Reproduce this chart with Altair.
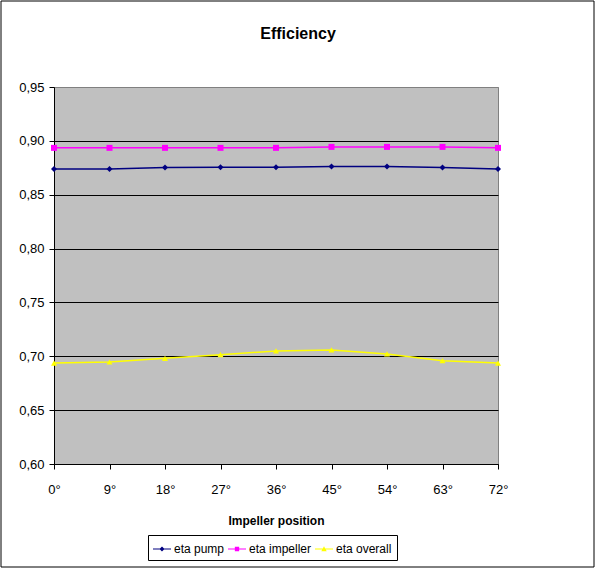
import altair as alt
import pandas as pd

# ---- data ----
positions = [0, 9, 18, 27, 36, 45, 54, 63, 72]
eta_pump = [0.8738, 0.8739, 0.8753, 0.8754, 0.8754, 0.8762, 0.8762, 0.8753, 0.8738]
eta_impeller = [0.8935, 0.8935, 0.8935, 0.8935, 0.8935, 0.8944, 0.8944, 0.8944, 0.8935]
eta_overall = [0.6937, 0.6947, 0.6981, 0.7015, 0.7050, 0.7059, 0.7022, 0.6959, 0.6937]

series_names = ["eta pump", "eta impeller", "eta overall"]
series_colors = ["#000080", "#FF00FF", "#FFFF00"]
marker_shapes = ["diamond", "square", "triangle-up"]
y_ticks = [0.60, 0.65, 0.70, 0.75, 0.80, 0.85, 0.90, 0.95]
x_ticks = positions

FONT = "Liberation Sans"

rows = []
for name, vals in zip(series_names, [eta_pump, eta_impeller, eta_overall]):
    for p, v in zip(positions, vals):
        rows.append({"position": p, "value": v, "series": name})
df = pd.DataFrame(rows)

# legend symbols: a short line with the marker on top
LINE = "M-1,-0.06H1V0.06H-1Z"
legend_paths = [
    LINE + "M0,-0.28L0.28,0L0,0.28L-0.28,0Z",
    LINE + "M-0.24,-0.24H0.24V0.24H-0.24Z",
    LINE + "M0,-0.3L0.3,0.24H-0.3Z",
]

color_scale = alt.Scale(domain=series_names, range=series_colors)

x_enc = alt.X(
    "position:Q",
    scale=alt.Scale(domain=[0, 72], nice=False, zero=False),
    axis=alt.Axis(
        values=x_ticks, grid=False, labelExpr="datum.value + '\u00b0'",
        labelFlush=False, labelOverlap=False, tickSize=5, tickColor="black",
        domainColor="black", labelFont=FONT, labelFontSize=13, labelColor="black",
        labelPadding=14, title="Impeller position", titleFont=FONT,
        titleFontSize=12, titleFontWeight="bold", titleColor="black", titlePadding=19,
    ),
)
y_enc = alt.Y(
    "value:Q",
    scale=alt.Scale(domain=[0.6, 0.95], nice=False, zero=False),
    axis=alt.Axis(
        values=y_ticks, grid=True,
        gridColor=alt.condition("datum.value > 0.94", alt.value("#808080"), alt.value("black")),
        gridWidth=1, labelExpr="replace(format(datum.value, '.2f'), '.', ',')",
        labelFlush=False, labelOverlap=False, tickSize=5, tickColor="black",
        domainColor="black", labelFont=FONT, labelFontSize=13, labelColor="black",
        labelPadding=5, title=None,
    ),
)

base = alt.Chart(df).encode(x=x_enc, y=y_enc)

lines = base.mark_line(strokeWidth=1.5).encode(
    color=alt.Color("series:N", scale=color_scale, legend=None)
)
points = base.mark_point(filled=True, opacity=1, size=36).encode(
    color=alt.Color("series:N", scale=color_scale, legend=None),
    shape=alt.Shape("series:N", scale=alt.Scale(domain=series_names, range=marker_shapes), legend=None),
)

leg = alt.Legend(
    orient="none", legendX=94, legendY=448, direction="horizontal", title=None,
    strokeColor="black", fillColor="white", padding=5, symbolSize=324,
    symbolStrokeWidth=0, labelFont=FONT, labelFontSize=12, labelColor="black",
    columnPadding=3, labelOffset=3,
)
legend_layer = base.mark_point(filled=True, opacity=1).encode(
    color=alt.Color("series:N", scale=color_scale, legend=leg),
    shape=alt.Shape("series:N", scale=alt.Scale(domain=series_names, range=legend_paths), legend=leg),
).transform_filter("false")

border = alt.Chart(pd.DataFrame({"a": [0]})).mark_rect(
    fill="transparent", stroke="black", strokeWidth=1
).encode(x=alt.value(-53), x2=alt.value(540), y=alt.value(-86), y2=alt.value(480))

chart = (
    alt.layer(border, lines, points, legend_layer)
    .resolve_scale(color="independent", shape="independent")
    .properties(
        width=444, height=377,
        padding={"left": 54, "top": 87, "right": 97, "bottom": 104},
        autosize=alt.AutoSizeParams(type="none"),
        title=alt.TitleParams(
            "Efficiency", font=FONT, fontSize=16, fontWeight="bold", color="black",
            anchor="middle", dx=22, offset=-54, baseline="alphabetic",
        ),
    )
    .configure(background="white")
    .configure_view(fill="#C0C0C0", stroke="#808080", strokeWidth=1)
)

chart.save("out.html", embed_options={"renderer": "svg", "actions": False})
